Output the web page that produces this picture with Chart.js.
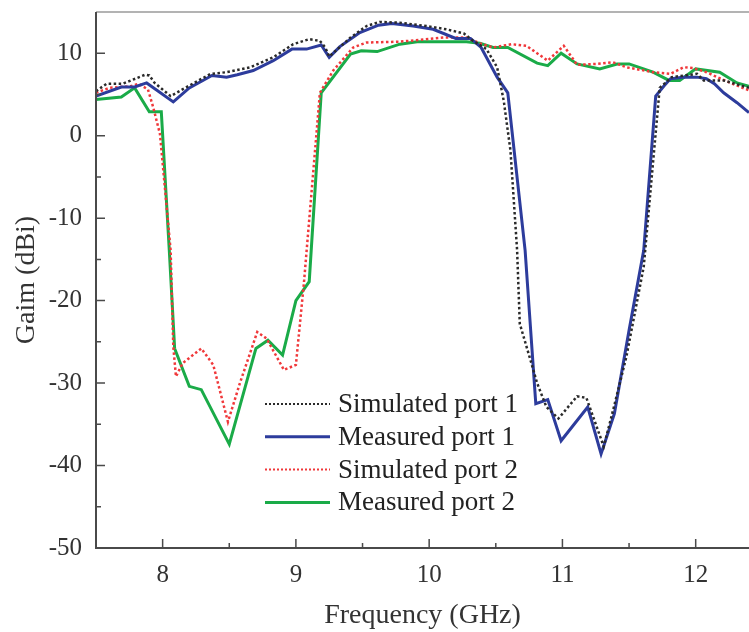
<!DOCTYPE html>
<html>
<head>
<meta charset="utf-8">
<script src="https://cdn.jsdelivr.net/npm/chart.js@4"></script>
<style>
  html, body { margin: 0; padding: 0; background: #fff; }
  #wrap { width: 749px; height: 632px; }
</style>
</head>
<body>
<div id="wrap"><canvas id="gain-chart"></canvas></div>
<script>
// Frequency (GHz) / gain (dBi) pairs for each curve
const simPort1Freq = [7.5, 7.58, 7.7, 7.87, 7.9, 7.94, 8.06, 8.18, 8.36, 8.48, 8.66, 8.83, 8.98, 9.1, 9.18, 9.22, 9.25, 9.41, 9.53, 9.63, 9.78, 9.98, 10.13, 10.26, 10.33, 10.43, 10.51, 10.56, 10.61, 10.66, 10.68, 10.76, 10.81, 10.88, 10.97, 11.11, 11.18, 11.31, 11.38, 11.48, 11.61, 11.73, 11.82, 12.01, 12.06, 12.21, 12.4];
const simPort1Gain = [5.4, 6.3, 6.3, 7.4, 7.3, 6.4, 4.8, 5.9, 7.5, 7.7, 8.3, 9.5, 11.1, 11.7, 11.5, 10.7, 9.6, 11.9, 13.3, 13.8, 13.7, 13.3, 12.9, 12.4, 11.5, 10.5, 8.3, 4.2, -1.8, -13.9, -22.8, -27.2, -30, -32.9, -34.3, -31.6, -31.8, -37.7, -33.3, -26.8, -15.9, 5.8, 7.1, 7.5, 6.7, 6.7, 5.8];

const measPort1Freq = [7.5, 7.69, 7.79, 7.88, 8.08, 8.2, 8.37, 8.48, 8.56, 8.68, 8.83, 8.97, 9.08, 9.19, 9.25, 9.33, 9.48, 9.62, 9.72, 9.88, 10.03, 10.2, 10.31, 10.39, 10.51, 10.59, 10.72, 10.8, 10.89, 10.99, 11.19, 11.29, 11.39, 11.5, 11.61, 11.7, 11.76, 11.81, 11.9, 12.01, 12.08, 12.14, 12.21, 12.31, 12.4];
const measPort1Gain = [4.8, 5.9, 5.9, 6.4, 4.1, 5.8, 7.3, 7.1, 7.4, 7.9, 9.1, 10.5, 10.5, 11.0, 9.5, 10.8, 12.5, 13.4, 13.6, 13.3, 12.9, 11.8, 11.8, 10.7, 7.1, 5.2, -13.9, -32.5, -32.0, -37.0, -32.9, -38.6, -33.7, -23.6, -13.9, 4.8, 6.0, 6.9, 7.1, 7.1, 6.9, 6.3, 5.2, 4.0, 2.8];

const simPort2Freq = [7.5, 7.6, 7.76, 7.82, 7.89, 7.93, 7.98, 8.06, 8.08, 8.1, 8.15, 8.29, 8.38, 8.49, 8.58, 8.71, 8.78, 8.91, 9.0, 9.06, 9.18, 9.28, 9.43, 9.53, 9.78, 10.11, 10.28, 10.38, 10.48, 10.62, 10.73, 10.89, 11.01, 11.11, 11.26, 11.38, 11.48, 11.68, 11.81, 11.91, 11.98, 12.08, 12.26, 12.4];
const simPort2Gain = [5.2, 5.8, 6.0, 6.3, 5.6, 3.4, 0.2, -13.9, -25.6, -29.2, -27.6, -25.8, -27.8, -34.7, -30, -23.8, -24.6, -28.4, -27.8, -17.9, 5.2, 7.9, 10.7, 11.3, 11.4, 11.9, 11.9, 11.2, 10.7, 11.1, 10.9, 9.1, 10.9, 8.6, 8.7, 8.9, 8.3, 7.7, 7.5, 8.3, 8.2, 7.7, 6.4, 5.5];

const measPort2Freq = [7.5, 7.69, 7.79, 7.9, 7.99, 8.05, 8.09, 8.2, 8.29, 8.5, 8.7, 8.79, 8.9, 9.0, 9.1, 9.19, 9.41, 9.49, 9.61, 9.78, 9.91, 10.28, 10.38, 10.48, 10.59, 10.81, 10.89, 10.99, 11.11, 11.28, 11.41, 11.5, 11.68, 11.8, 11.88, 12.0, 12.18, 12.31, 12.4];
const measPort2Gain = [4.4, 4.7, 5.8, 2.9, 2.9, -13.9, -25.8, -30.4, -30.8, -37.4, -25.8, -24.8, -26.6, -20.0, -17.7, 5.2, 9.9, 10.3, 10.2, 11.1, 11.4, 11.4, 11.2, 10.7, 10.7, 8.8, 8.5, 10.0, 8.7, 8.1, 8.7, 8.7, 7.7, 6.7, 6.7, 8.1, 7.7, 6.4, 6.0];

const seriesNames = ['Simulated port 1', 'Measured port 1', 'Simulated port 2', 'Measured port 2'];
const xTickValues = [8, 9, 10, 11, 12];
const yTickValues = [-50, -40, -30, -20, -10, 0, 10];

const SERIF = '"Liberation Serif", "DejaVu Serif", serif';
const AXIS_COLOR = '#4a4a4a';

const toPoints = (xs, ys) => xs.map((x, i) => ({ x: x, y: ys[i] }));

const styles = [
    { color: '#2a2a2a', width: 2.5, dash: [2.5, 2.5] },
    { color: '#2d3c9c', width: 3, dash: [] },
    { color: '#f0383a', width: 2.5, dash: [2.5, 2.5] },
    { color: '#1aab48', width: 3, dash: [] }
];
const curves = [
    toPoints(simPort1Freq, simPort1Gain),
    toPoints(measPort1Freq, measPort1Gain),
    toPoints(simPort2Freq, simPort2Gain),
    toPoints(measPort2Freq, measPort2Gain)
];

// Frame: left/bottom spines, light top border, inward major + minor ticks
const framePlugin = {
    id: 'frame',
    afterDraw(chart) {
        const { ctx, chartArea: a, scales: { x, y } } = chart;
        ctx.save();
        ctx.strokeStyle = '#9a9a9a';
        ctx.lineWidth = 1.5;
        ctx.beginPath();
        ctx.moveTo(a.left, a.top);
        ctx.lineTo(a.right, a.top);
        ctx.stroke();

        ctx.strokeStyle = AXIS_COLOR;
        ctx.lineWidth = 2;
        ctx.beginPath();
        ctx.moveTo(a.left, a.top);
        ctx.lineTo(a.left, a.bottom);
        ctx.lineTo(a.right, a.bottom);
        ctx.stroke();

        ctx.lineWidth = 1.5;
        ctx.beginPath();
        for (let v = 7.5; v <= 12.4; v += 0.5) {
            const px = x.getPixelForValue(v);
            if (px <= a.left + 1) continue;
            const len = Number.isInteger(v) ? 9 : 5;
            ctx.moveTo(px, a.bottom);
            ctx.lineTo(px, a.bottom - len);
        }
        for (let v = -45; v <= 10; v += 5) {
            const py = y.getPixelForValue(v);
            const len = v % 10 === 0 ? 9 : 5;
            ctx.moveTo(a.left, py);
            ctx.lineTo(a.left + len, py);
        }
        ctx.stroke();
        ctx.restore();
    }
};

// Legend sitting inside the plot, lower middle
const legendPlugin = {
    id: 'innerLegend',
    afterDraw(chart) {
        const { ctx, chartArea: a } = chart;
        const x0 = a.left + 169, x1 = a.left + 234, tx = a.left + 242;
        let yy = a.top + 392;
        ctx.save();
        ctx.font = '27px ' + SERIF;
        ctx.textBaseline = 'middle';
        seriesNames.forEach((name, i) => {
            const s = styles[i];
            ctx.strokeStyle = s.color;
            ctx.lineWidth = s.dash.length ? 2 : 3;
            ctx.setLineDash(s.dash.length ? [2, 2] : []);
            ctx.beginPath();
            ctx.moveTo(x0, yy);
            ctx.lineTo(x1, yy);
            ctx.stroke();
            ctx.setLineDash([]);
            ctx.fillStyle = '#222';
            ctx.fillText(name, tx, yy + 1);
            yy += 32.8;
        });
        ctx.restore();
    }
};

new Chart(document.getElementById('gain-chart'), {
    type: 'line',
    data: {
        datasets: curves.map((pts, i) => ({
            label: seriesNames[i],
            data: pts,
            borderColor: styles[i].color,
            backgroundColor: styles[i].color,
            borderWidth: styles[i].width,
            borderDash: styles[i].dash,
            pointRadius: 0,
            tension: 0,
            fill: false
        }))
    },
    options: {
        responsive: true,
        maintainAspectRatio: false,
        animation: false,
        layout: { padding: { top: 12, right: 0, left: 0, bottom: 0 } },
        plugins: {
            legend: { display: false },
            tooltip: { enabled: false }
        },
        scales: {
            x: {
                type: 'linear',
                min: 7.5,
                max: 12.4,
                border: { display: false },
                grid: { display: false },
                afterBuildTicks: scale => { scale.ticks = xTickValues.map(v => ({ value: v })); },
                afterFit: scale => {
                    scale.height = 84;
                    scale.paddingLeft = 0;
                    scale.paddingRight = 0;
                },
                ticks: {
                    color: '#333',
                    font: { family: SERIF, size: 25 },
                    padding: 4,
                    maxRotation: 0
                },
                title: {
                    display: true,
                    text: 'Frequency (GHz)',
                    color: '#333',
                    font: { family: SERIF, size: 28 },
                    padding: { top: 6, bottom: 0 }
                }
            },
            y: {
                type: 'linear',
                min: -50,
                max: 15,
                border: { display: false },
                grid: { display: false },
                afterBuildTicks: scale => { scale.ticks = yTickValues.map(v => ({ value: v })); },
                afterFit: scale => {
                    scale.width = 96;
                    scale.paddingTop = 0;
                    scale.paddingBottom = 0;
                },
                ticks: {
                    color: '#333',
                    font: { family: SERIF, size: 25 },
                    padding: 6
                },
                title: {
                    display: true,
                    text: 'Gaim (dBi)',
                    color: '#333',
                    font: { family: SERIF, size: 28 },
                    padding: { top: 10, bottom: 2 }
                }
            }
        }
    },
    plugins: [framePlugin, legendPlugin]
});
</script>
</body>
</html>
